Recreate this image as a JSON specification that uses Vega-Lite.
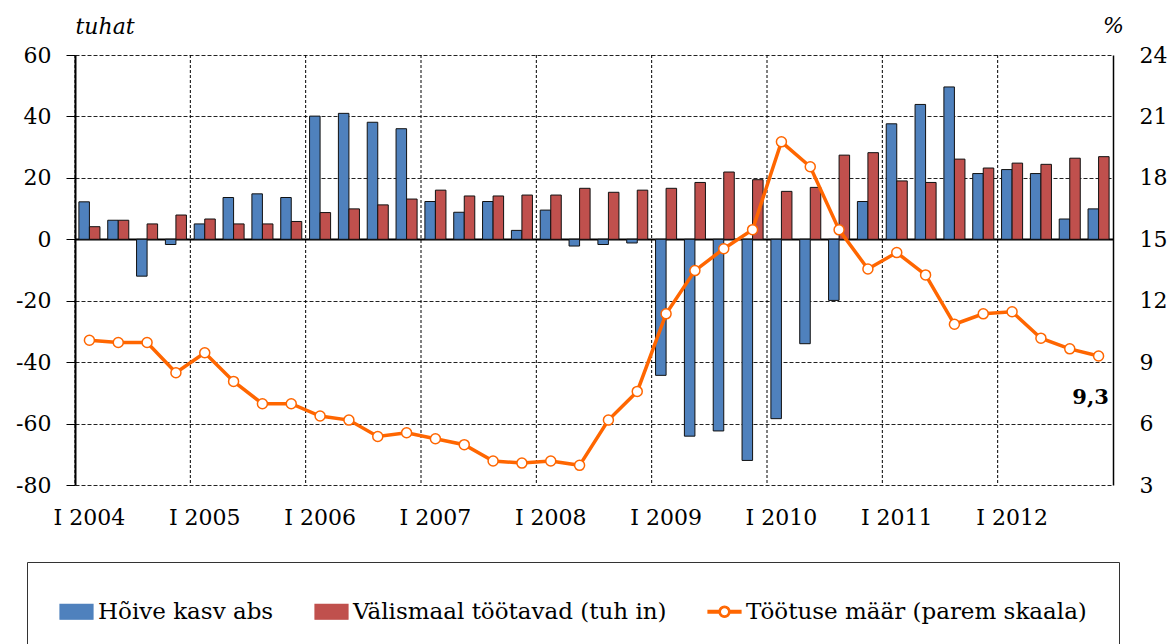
{
  "$schema": "https://vega.github.io/schema/vega-lite/v6.json",
  "width": 1038,
  "height": 430,
  "autosize": {"type": "none"},
  "padding": {"left": 75, "top": 55, "right": 61, "bottom": 159},
  "background": "white",
  "config": {
    "view": {"stroke": null},
    "font": "DejaVu Serif",
    "legend": {"symbolOpacity": 1},
    "locale": {"number": {"decimal": ",", "thousands": " ", "grouping": [3], "currency": ["", " €"], "minus": "-"}}
  },
  "data": {
    "values": [
      {"q": "I 2004", "Hõive kasv abs": 12.2, "Välismaal töötavad (tuh in)": 4.1, "rate": 10.07},
      {"q": "II 2004", "Hõive kasv abs": 6.2, "Välismaal töötavad (tuh in)": 6.2, "rate": 9.96},
      {"q": "III 2004", "Hõive kasv abs": -12.0, "Välismaal töötavad (tuh in)": 5.0, "rate": 9.96},
      {"q": "IV 2004", "Hõive kasv abs": -1.7, "Välismaal töötavad (tuh in)": 7.9, "rate": 8.48},
      {"q": "I 2005", "Hõive kasv abs": 5.0, "Välismaal töötavad (tuh in)": 6.6, "rate": 9.46},
      {"q": "II 2005", "Hõive kasv abs": 13.6, "Välismaal töötavad (tuh in)": 5.0, "rate": 8.06},
      {"q": "III 2005", "Hõive kasv abs": 14.8, "Välismaal töötavad (tuh in)": 5.0, "rate": 6.97},
      {"q": "IV 2005", "Hõive kasv abs": 13.6, "Välismaal töötavad (tuh in)": 5.8, "rate": 6.97},
      {"q": "I 2006", "Hõive kasv abs": 40.1, "Välismaal töötavad (tuh in)": 8.7, "rate": 6.37},
      {"q": "II 2006", "Hõive kasv abs": 41.0, "Välismaal töötavad (tuh in)": 9.9, "rate": 6.17},
      {"q": "III 2006", "Hõive kasv abs": 38.1, "Välismaal töötavad (tuh in)": 11.2, "rate": 5.37},
      {"q": "IV 2006", "Hõive kasv abs": 36.0, "Välismaal töötavad (tuh in)": 13.1, "rate": 5.55},
      {"q": "I 2007", "Hõive kasv abs": 12.3, "Välismaal töötavad (tuh in)": 16.0, "rate": 5.26},
      {"q": "II 2007", "Hõive kasv abs": 8.8, "Välismaal töötavad (tuh in)": 14.1, "rate": 4.97},
      {"q": "III 2007", "Hõive kasv abs": 12.3, "Välismaal töötavad (tuh in)": 14.1, "rate": 4.17},
      {"q": "IV 2007", "Hõive kasv abs": 2.9, "Välismaal töötavad (tuh in)": 14.4, "rate": 4.07},
      {"q": "I 2008", "Hõive kasv abs": 9.5, "Välismaal töötavad (tuh in)": 14.4, "rate": 4.17},
      {"q": "II 2008", "Hõive kasv abs": -2.2, "Välismaal töötavad (tuh in)": 16.6, "rate": 3.96},
      {"q": "III 2008", "Hõive kasv abs": -1.7, "Välismaal töötavad (tuh in)": 15.3, "rate": 6.17},
      {"q": "IV 2008", "Hõive kasv abs": -1.2, "Välismaal töötavad (tuh in)": 16.0, "rate": 7.57},
      {"q": "I 2009", "Hõive kasv abs": -44.3, "Välismaal töötavad (tuh in)": 16.6, "rate": 11.36},
      {"q": "II 2009", "Hõive kasv abs": -64.1, "Välismaal töötavad (tuh in)": 18.5, "rate": 13.47},
      {"q": "III 2009", "Hõive kasv abs": -62.4, "Välismaal töötavad (tuh in)": 21.9, "rate": 14.54},
      {"q": "IV 2009", "Hõive kasv abs": -72.0, "Välismaal töötavad (tuh in)": 19.4, "rate": 15.47},
      {"q": "I 2010", "Hõive kasv abs": -58.4, "Välismaal töötavad (tuh in)": 15.6, "rate": 19.76},
      {"q": "II 2010", "Hõive kasv abs": -34.0, "Välismaal töötavad (tuh in)": 16.9, "rate": 18.54},
      {"q": "III 2010", "Hõive kasv abs": -19.9, "Välismaal töötavad (tuh in)": 27.4, "rate": 15.46},
      {"q": "IV 2010", "Hõive kasv abs": 12.3, "Välismaal töötavad (tuh in)": 28.2, "rate": 13.55},
      {"q": "I 2011", "Hõive kasv abs": 37.6, "Välismaal töötavad (tuh in)": 19.0, "rate": 14.35},
      {"q": "II 2011", "Hõive kasv abs": 43.9, "Välismaal töötavad (tuh in)": 18.5, "rate": 13.26},
      {"q": "III 2011", "Hõive kasv abs": 49.6, "Välismaal töötavad (tuh in)": 26.1, "rate": 10.85},
      {"q": "IV 2011", "Hõive kasv abs": 21.4, "Välismaal töötavad (tuh in)": 23.2, "rate": 11.36},
      {"q": "I 2012", "Hõive kasv abs": 22.7, "Välismaal töötavad (tuh in)": 24.8, "rate": 11.46},
      {"q": "II 2012", "Hõive kasv abs": 21.4, "Välismaal töötavad (tuh in)": 24.4, "rate": 10.17},
      {"q": "III 2012", "Hõive kasv abs": 6.6, "Välismaal töötavad (tuh in)": 26.4, "rate": 9.65},
      {"q": "IV 2012", "Hõive kasv abs": 9.9, "Välismaal töötavad (tuh in)": 26.9, "rate": 9.3}
    ]
  },
  "layer": [
    {
      "layer": [
        {
          "transform": [{"filter": "indexof(datum.q, 'I ') === 0"}],
          "mark": {"type": "rule", "color": "black", "strokeWidth": 1, "strokeDash": [3, 2]},
          "encoding": {
            "x": {"field": "q", "type": "nominal", "bandPosition": 0}
          }
        },
        {
          "transform": [{"fold": ["Hõive kasv abs", "Välismaal töötavad (tuh in)"], "as": ["series", "value"]}],
          "mark": {"type": "bar", "stroke": "#111111", "strokeWidth": 1},
          "encoding": {
            "x": {
              "field": "q", "type": "nominal",
              "scale": {
                "domain": ["I 2004","II 2004","III 2004","IV 2004","I 2005","II 2005","III 2005","IV 2005","I 2006","II 2006","III 2006","IV 2006","I 2007","II 2007","III 2007","IV 2007","I 2008","II 2008","III 2008","IV 2008","I 2009","II 2009","III 2009","IV 2009","I 2010","II 2010","III 2010","IV 2010","I 2011","II 2011","III 2011","IV 2011","I 2012","II 2012","III 2012","IV 2012"],
                "paddingInner": 0, "paddingOuter": 0
              },
              "axis": {
                "values": ["I 2004","I 2005","I 2006","I 2007","I 2008","I 2009","I 2010","I 2011","I 2012"],
                "bandPosition": 0.5,
                "domain": false, "ticks": false, "grid": false,
                "labelAngle": 0, "labelAlign": "center", "labelBaseline": "top",
                "labelPadding": 22, "labelFont": "DejaVu Serif", "labelFontSize": 22, "labelColor": "black",
                "title": null
              }
            },
            "xOffset": {"field": "series", "type": "nominal", "sort": null, "scale": {"paddingInner": 0, "paddingOuter": 0.37}},
            "y": {
              "field": "value", "type": "quantitative",
              "scale": {"domain": [-80, 60], "nice": false, "zero": false},
              "axis": {
                "values": [-80, -60, -40, -20, 0, 20, 40, 60],
                "grid": true,
                "gridDash": {"condition": {"test": "datum.value === 0", "value": []}, "value": [4, 2]},
                "gridWidth": {"condition": {"test": "datum.value === 0", "value": 2}, "value": 1},
                "gridColor": {"condition": {"test": "datum.value === 0", "value": "black"}, "value": "#222222"},
                "gridOpacity": 1,
                "domainColor": "black", "domainWidth": 2,
                "tickColor": "black", "tickSize": 9, "tickWidth": 1,
                "labelPadding": 15, "labelFont": "DejaVu Serif", "labelFontSize": 22, "labelColor": "black",
                "title": "tuhat", "titleAngle": 0, "titleAlign": "left", "titleX": 0, "titleY": -22,
                "titleBaseline": "alphabetic", "titleFont": "DejaVu Serif", "titleFontStyle": "italic",
                "titleFontWeight": "normal", "titleFontSize": 22, "titleColor": "black"
              }
            },
            "color": {
              "field": "series", "type": "nominal",
              "scale": {
                "domain": ["Hõive kasv abs", "Välismaal töötavad (tuh in)", "Töötuse määr (parem skaala)"],
                "range": ["#4F81BD", "#C0504D", "#FF6600"]
              },
              "legend": {
                "orient": "none", "legendX": -48, "legendY": 507,
                "direction": "horizontal", "columns": 3, "columnPadding": 38,
                "title": null, "padding": 32, "strokeColor": "#333333", "fillColor": "white",
                "symbolSize": 1089, "symbolOpacity": 1, "symbolStrokeWidth": 1.2,
                "labelFont": "DejaVu Serif", "labelFontSize": 23, "labelColor": "black",
                "labelOffset": 4, "labelLimit": 700
              }
            }
          }
        },
        {
          "transform": [{"fold": ["Hõive kasv abs", "Välismaal töötavad (tuh in)"], "as": ["series", "value"]}],
          "mark": {"type": "point", "opacity": 0},
          "encoding": {
            "x": {"field": "q", "type": "nominal"},
            "xOffset": {"field": "series", "type": "nominal", "sort": null},
            "y": {"field": "value", "type": "quantitative"},
            "shape": {
              "field": "series", "type": "nominal",
              "scale": {
                "domain": ["Hõive kasv abs", "Välismaal töötavad (tuh in)", "Töötuse määr (parem skaala)"],
                "range": [
                  "M-1,-0.45H1V0.45H-1Z",
                  "M-1,-0.45H1V0.45H-1Z",
                  "M-1,-0.08H-0.33V0.08H-1ZM0.33,-0.08H1V0.08H0.33ZM0.34,0A0.34,0.34 0 1,1 -0.34,0A0.34,0.34 0 1,1 0.34,0ZM0.25,0A0.25,0.25 0 1,0 -0.25,0A0.25,0.25 0 1,0 0.25,0Z"
                ]
              },
              "legend": {
                "orient": "none", "legendX": -48, "legendY": 507,
                "direction": "horizontal", "columns": 3, "columnPadding": 38,
                "title": null, "padding": 32, "strokeColor": "#333333", "fillColor": "white",
                "symbolSize": 1089, "symbolOpacity": 1, "symbolStrokeWidth": 1.2,
                "labelFont": "DejaVu Serif", "labelFontSize": 23, "labelColor": "black",
                "labelOffset": 4, "labelLimit": 700
              }
            }
          }
        }
      ]
    },
    {
      "layer": [
        {
          "mark": {"type": "line", "strokeWidth": 3.5},
          "encoding": {
            "x": {"field": "q", "type": "nominal"},
            "y": {
              "field": "rate", "type": "quantitative",
              "scale": {"domain": [3, 24], "nice": false, "zero": false},
              "axis": {
                "orient": "right",
                "values": [3, 6, 9, 12, 15, 18, 21, 24],
                "grid": false, "ticks": false,
                "domainColor": "black", "domainWidth": 1.5,
                "labelPadding": 26, "labelFont": "DejaVu Serif", "labelFontSize": 22, "labelColor": "black",
                "title": "%", "titleAngle": 0, "titleAlign": "center", "titleX": 0, "titleY": -23,
                "titleBaseline": "alphabetic", "titleFont": "DejaVu Serif", "titleFontStyle": "italic",
                "titleFontWeight": "normal", "titleFontSize": 22, "titleColor": "black"
              }
            },
            "color": {"datum": "Töötuse määr (parem skaala)", "type": "nominal"}
          }
        },
        {
          "mark": {"type": "point", "shape": "circle", "filled": true, "fill": "white", "stroke": "#FF6600", "strokeWidth": 1.5, "size": 100, "opacity": 1},
          "encoding": {
            "x": {"field": "q", "type": "nominal"},
            "y": {"field": "rate", "type": "quantitative", "axis": {"orient": "right"}}
          }
        },
        {
          "transform": [{"filter": "datum.q === 'IV 2012'"}],
          "mark": {"type": "text", "font": "DejaVu Serif", "fontWeight": "bold", "fontSize": 21, "dy": 42, "dx": -8, "color": "black"},
          "encoding": {
            "x": {"field": "q", "type": "nominal"},
            "y": {"field": "rate", "type": "quantitative", "axis": {"orient": "right"}},
            "text": {"field": "rate", "type": "quantitative", "format": ".1f"}
          }
        }
      ]
    }
  ],
  "resolve": {"scale": {"y": "independent"}}
}
